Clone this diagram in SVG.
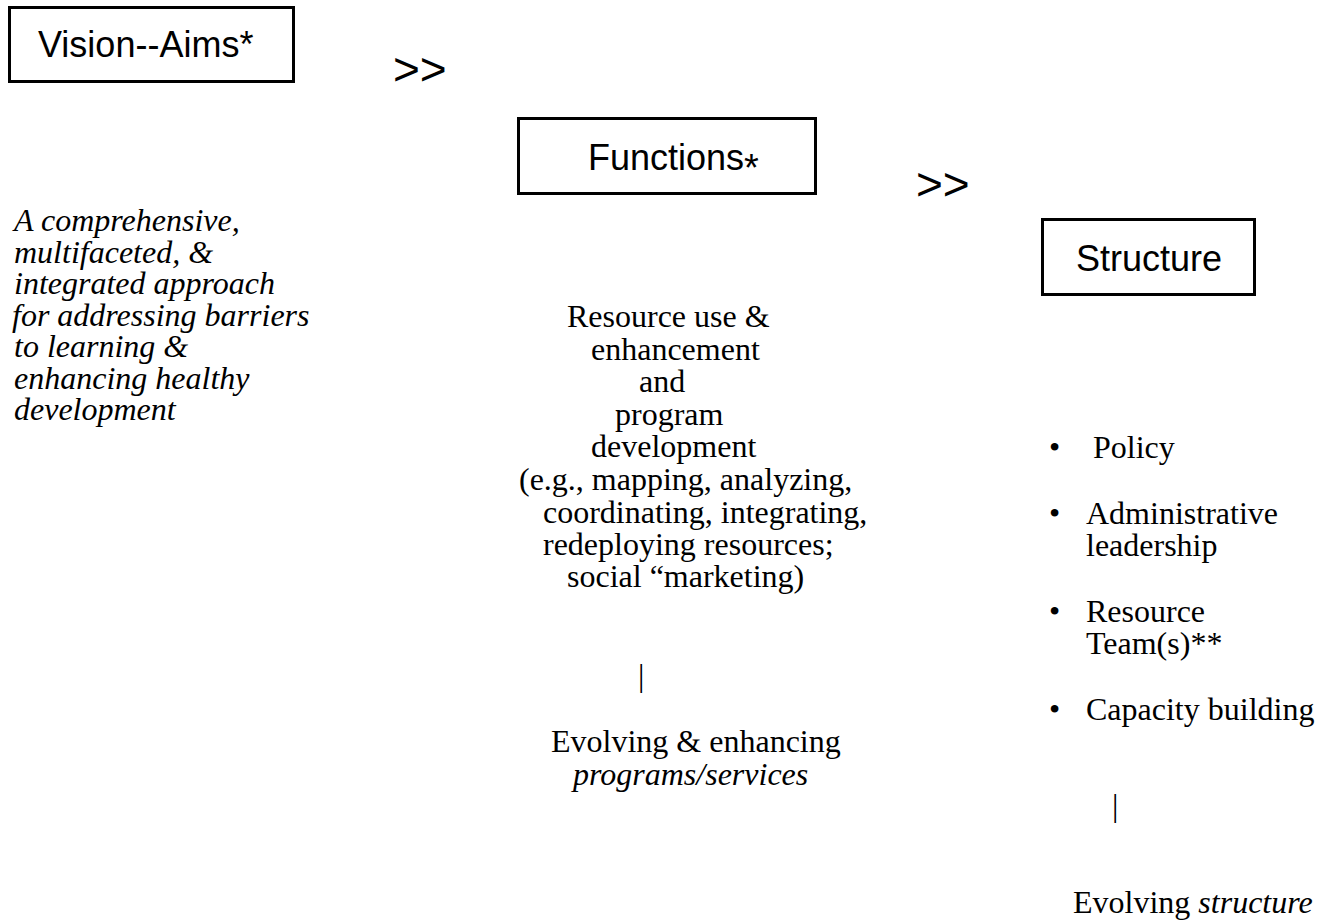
<svg xmlns="http://www.w3.org/2000/svg" width="1327" height="921" viewBox="0 0 1327 921">
<style>
.box{fill:#fff;stroke:#000;stroke-width:3}
.sans{font-family:"Liberation Sans",Arial,sans-serif;fill:#000}
.serif{font-family:"Liberation Serif","Times New Roman",serif;font-size:32px;fill:#000}
.it{font-style:italic}
.head{font-size:36px}
.arr{font-size:46px}
</style>
<rect width="1327" height="921" fill="#fff"/>
<g id="vision">
<rect class="box" x="9.5" y="7.5" width="284" height="74"/>
<text class="sans head" x="38" y="57">Vision--Aims*</text>
</g>
<g id="functions">
<rect class="box" x="518.5" y="118.5" width="297" height="75"/>
<text class="sans head" x="588" y="170">Functions<tspan font-size="38" dy="11">*</tspan></text>
</g>
<g id="structure">
<rect class="box" x="1042.5" y="219.5" width="212" height="75"/>
<text class="sans head" x="1076" y="271">Structure</text>
</g>
<g id="connectors">
<text class="sans arr" x="393" y="85">&gt;&gt;</text>
<text class="sans arr" x="916" y="200">&gt;&gt;</text>
<text class="serif" x="638" y="686" font-size="30">|</text>
<text class="serif" x="1112" y="816" font-size="30">|</text>
</g>
<g id="vision-text">
<text class="serif it" x="14" y="231">A comprehensive,</text>
<text class="serif it" x="14" y="262.5">multifaceted, &amp;</text>
<text class="serif it" x="14" y="294">integrated approach</text>
<text class="serif it" x="12" y="325.5">for addressing barriers</text>
<text class="serif it" x="14" y="357">to learning &amp;</text>
<text class="serif it" x="14" y="388.5">enhancing healthy</text>
<text class="serif it" x="14" y="420">development</text>
</g>
<g id="functions-text">
<text class="serif" x="567" y="327">Resource use &amp;</text>
<text class="serif" x="591" y="360">enhancement</text>
<text class="serif" x="639" y="392">and</text>
<text class="serif" x="615" y="425">program</text>
<text class="serif" x="591" y="457">development</text>
<text class="serif" x="519" y="490">(e.g., mapping, analyzing,</text>
<text class="serif" x="543" y="523">coordinating, integrating,</text>
<text class="serif" x="543" y="555">redeploying resources;</text>
<text class="serif" x="567" y="587">social “marketing)</text>
</g>
<g id="functions-outcome">
<text class="serif" x="551" y="752">Evolving &amp; enhancing</text>
<text class="serif it" x="573" y="785">programs/services</text>
</g>
<g id="structure-list">
<text class="serif" x="1049" y="458">•</text>
<text class="serif" x="1093" y="458">Policy</text>
<text class="serif" x="1049" y="524">•</text>
<text class="serif" x="1086" y="524">Administrative</text>
<text class="serif" x="1086" y="556">leadership</text>
<text class="serif" x="1049" y="622">•</text>
<text class="serif" x="1086" y="622">Resource</text>
<text class="serif" x="1086" y="654">Team(s)**</text>
<text class="serif" x="1049" y="720">•</text>
<text class="serif" x="1086" y="720">Capacity building</text>
</g>
<g id="structure-outcome">
<text class="serif" x="1073" y="913">Evolving <tspan class="it">structure</tspan></text>
</g>
</svg>
